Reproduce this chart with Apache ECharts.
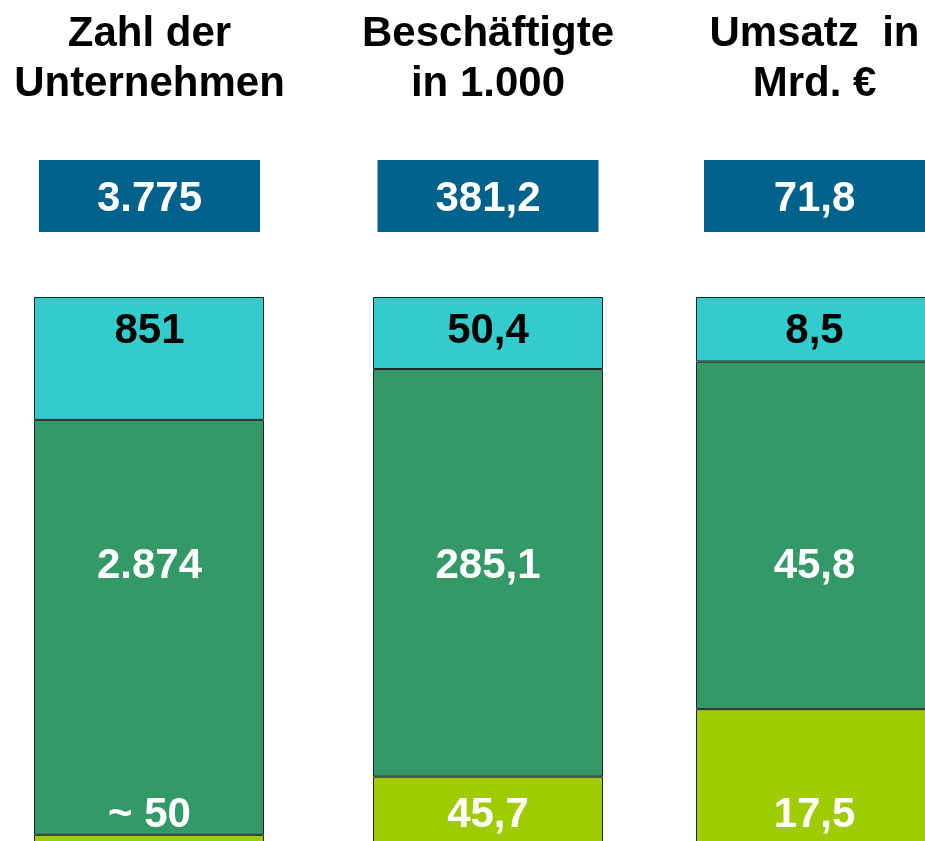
<!DOCTYPE html>
<html>
<head>
<meta charset="utf-8">
<script src="https://cdn.jsdelivr.net/npm/echarts@6/dist/echarts.min.js"></script>
<style>
html,body{margin:0;padding:0;background:#fff;}
#chart{width:925px;height:841px;}
</style>
</head>
<body>
<div id="chart"></div>
<script>
// ---- data ----
const titles = [['Zahl der', 'Unternehmen'], ['Beschäftigte', 'in 1.000'], ['Umsatz  in', 'Mrd. €']];
const totals = [3775, 381.2, 71.8];
const topValues = [851, 50.4, 8.5];        // cyan segment
const middleValues = [2874, 285.1, 45.8];  // green segment
const bottomValues = [50, 45.7, 17.5];     // lime segment
const decimals = [0, 1, 1];
const bottomPrefix = ['~ ', '', ''];

// ---- layout / style ----
const FONT = '"Liberation Sans", Arial, sans-serif';
const barLeft = [34, 373, 696];
const barW = [230, 230, 231];
const textCenter = [149.5, 488, 814.5];
const gridTop = 297;
const gridH = 545;
const labelTargetY = { top: 331, middle: 566, bottom: 815 };
const colors = { top: '#33CCCC', middle: '#339966', bottom: '#9ECC00', box: '#00628A' };

function fmt(v, d) {
  const s = v.toFixed(d);
  let [i, f] = s.split('.');
  i = i.replace(/\B(?=(\d{3})+(?!\d))/g, '.');
  return f ? i + ',' + f : i;
}

const chart = echarts.init(document.getElementById('chart'));
const grid = [], xAxis = [], yAxis = [], series = [], graphic = [];

for (let i = 0; i < 3; i++) {
  grid.push({ left: barLeft[i], top: gridTop, width: barW[i], height: gridH, outerBoundsMode: 'none', containLabel: false });
  xAxis.push({ type: 'category', gridIndex: i, data: [titles[i].join(' ')], show: false });
  yAxis.push({ type: 'value', gridIndex: i, min: 0, max: totals[i], show: false, splitLine: { show: false } });

  const barCenter = barLeft[i] + barW[i] / 2;
  const cx = textCenter[i];
  const segs = [
    { key: 'bottom', v: bottomValues[i], text: bottomPrefix[i] + fmt(bottomValues[i], decimals[i]), color: '#fff' },
    { key: 'middle', v: middleValues[i], text: fmt(middleValues[i], decimals[i]), color: '#fff' },
    { key: 'top', v: topValues[i], text: fmt(topValues[i], decimals[i]), color: '#000' }
  ];
  let lower = 0;
  segs.forEach(s => {
    const centerY = gridTop + gridH * (1 - (lower + s.v / 2) / totals[i]);
    lower += s.v;
    series.push({
      type: 'bar',
      xAxisIndex: i, yAxisIndex: i,
      stack: 'g' + i,
      barWidth: '100%',
      data: [s.v],
      itemStyle: { color: colors[s.key], borderColor: '#222', borderWidth: 1 },
      label: {
        show: true, position: 'inside',
        offset: [cx - barCenter, labelTargetY[s.key] - centerY],
        formatter: () => s.text,
        color: s.color, fontSize: 42, fontWeight: 'bold', fontFamily: FONT
      },
      emphasis: { disabled: true },
      silent: true, animation: false
    });
  });

  // titles
  titles[i].forEach((t, j) => {
    graphic.push({
      type: 'text', x: cx, y: 34 + j * 50, silent: true,
      style: { text: t, align: 'center', verticalAlign: 'middle', textAlign: 'center', textVerticalAlign: 'middle',
               font: 'bold 42px ' + FONT, fill: '#000' }
    });
  });
  // total box
  graphic.push({
    type: 'rect', silent: true,
    shape: { x: cx - 110.5, y: 160, width: 221, height: 72 },
    style: { fill: colors.box }
  });
  graphic.push({
    type: 'text', x: cx, y: 199, silent: true,
    style: { text: fmt(totals[i], decimals[i]), align: 'center', verticalAlign: 'middle', textAlign: 'center', textVerticalAlign: 'middle',
             font: 'bold 42px ' + FONT, fill: '#fff' }
  });
}

chart.setOption({
  animation: false,
  backgroundColor: '#fff',
  grid, xAxis, yAxis, series, graphic
});
</script>
</body>
</html>
